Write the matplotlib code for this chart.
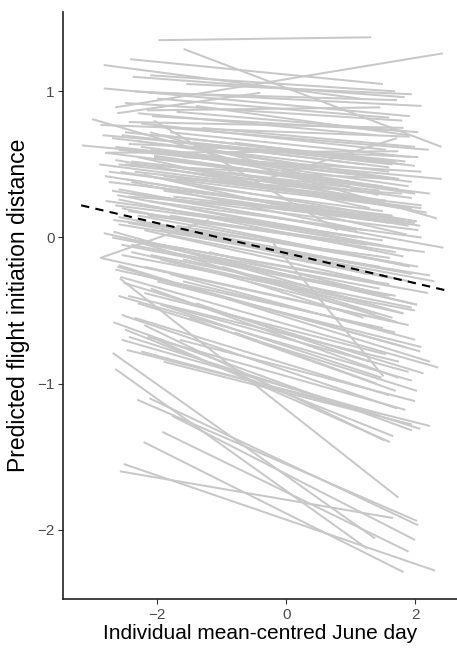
import matplotlib
matplotlib.use("Agg")
import matplotlib.pyplot as plt

plt.rcParams['font.family'] = ['Liberation Sans', 'DejaVu Sans']

# Individual random-slope lines: start/end of each individual's June-day range
x_start = [-1.98, -1.59, -2.65, -2.83, -2.42, -2.38, -2.11, -2.83, -2.13, -2.62,
           -2.16, -3.01, -2.44, -2.08, -2.88, -2.07, -3.17, -2.78, -2.44, -1.93,
           -2.11, -0.60, -2.55, -2.31, -2.05, -2.81, -2.65, -2.57, -2.81, -2.21,
           -2.60, -2.62, -2.60, -2.55, -2.68, -2.60, -2.83, -2.68, -2.52, -2.30,
           -2.00, -2.40, -1.90, -2.20, -1.80, -2.35, -1.70, -2.50, -2.10, -1.60,
           -2.45, -1.50, -2.20, -2.75, -1.95, -2.88, -2.88, -2.60, -2.62, -2.57,
           -2.58, -2.52, -1.95, -2.68, -2.55, -2.50, -2.44, -2.69, -2.47, -2.65,
           -2.20, -2.00, -2.30, -2.10, -1.80, -2.40, -2.20, -1.60, -2.00, -1.40,
           -0.60, -2.55, -1.20, -0.20, -2.31, -2.12, -1.77, -1.92, -2.21, -2.52,
           -2.58, -2.70, -2.25, -1.85, -2.60, -2.35, -2.15, -2.65, -2.45, -2.05,
           -2.70, -2.30, -1.75, -1.45, -1.30, -2.50, -2.00, -1.70, -2.25, -2.85,
           -1.65, -2.40, -1.85, -2.55, -1.95, -2.30, -1.50, -2.25, -1.90, -2.60,
           -1.35, -1.55, -2.35, -2.60, -1.40, -2.15, -1.00, -2.70, -1.80, -2.35,
           -2.05, -1.25, -2.45, -0.90, -2.20, -1.60,
           -2.50, -2.20, -1.80, -2.65, -2.05, -2.40, -1.60, -2.75, -2.15, -2.50,
           -1.90, -2.30, -2.60, -1.70, -2.40, -2.10, -2.65, -2.00, -2.45, -1.75,
           -2.35, -2.15, -2.55, -1.65, -1.20, -1.10, -0.80, -2.90, -2.30, -1.40,
           -1.00, -0.80, -2.80]
y_start = [1.35, 1.29, 0.89, 1.18, 1.22, 1.10, 1.11, 1.02, 0.99, 0.85,
           0.87, 0.81, 0.79, 0.83, 0.77, 0.76, 0.63, 0.58, 0.64, 0.70,
           0.72, 0.36, 0.70, 0.66, 0.80, 0.58, 0.53, 0.45, 0.42, 0.43,
           0.33, 0.29, 0.26, 0.20, 0.12, 0.09, 0.03, 0.04, 0.00, 0.55,
           0.50, 0.38, 0.32, 0.22, 0.15, 0.12, 0.40, 0.50, 0.60, 0.55,
           0.28, 0.20, 0.05, 0.45, 0.05, -0.14, -0.14, -0.19, -0.20, -0.27,
           -0.28, -0.31, -0.46, -0.58, -0.53, -0.63, -0.68, -0.79, -0.77, -0.90,
           -0.60, -0.70, -0.45, -0.35, -0.25, -0.10, -0.20, -0.30, -0.05, -0.45,
           -0.30, -0.05, -0.10, -0.04, -1.11, -1.10, -1.22, -1.33, -1.40, -1.55,
           -1.60, 0.68, 0.62, 0.58, 0.50, 0.45, 0.35, 0.22, 0.18, 0.10,
           0.00, -0.02, 0.28, 0.65, 0.75, 0.92, 0.95, 0.86, 0.78, 0.70,
           0.48, 0.30, 0.02, -0.12, -0.15, -0.25, -0.55, -0.78, -0.85, -0.40,
           0.00, 1.05, 1.00, 0.60, 0.35, 0.15, 0.25, 0.32, 0.42, -0.02,
           0.55, 0.60, 0.10, 0.45, -0.38, -0.15,
           0.72, 0.68, 0.72, 0.62, 0.56, 0.52, 0.45, 0.38, 0.25, 0.40,
           0.42, 0.15, 0.14, 0.08, -0.05, -0.12, -0.22, -0.30, -0.40, -0.48,
           -0.55, -0.68, -0.70, -0.70, 0.50, 0.30, 0.65, 0.50, 0.85, 0.90,
           -0.20, -0.65, 0.25]
x_end = [1.32, 2.41, 2.43, 1.15, 1.50, 1.84, 1.69, 1.92, 1.72, -0.40,
         1.46, 2.34, 1.82, 1.79, 1.92, 2.21, 2.41, 1.74, 2.05, 2.00,
         1.43, 1.72, 1.20, 1.00, 0.80, 2.23, 2.18, 2.03, 2.08, 1.87,
         2.44, 1.92, 1.82, 1.92, 1.61, 2.23, 2.03, 1.82, 1.72, 1.30,
         1.55, 1.20, 1.60, 1.40, 1.70, 1.25, 1.80, 1.65, 1.90, 2.10,
         1.50, 1.10, 1.35, 1.95, 1.45, -1.20, 1.90, 2.23, 2.08, 2.36,
         1.74, 2.13, 1.48, 1.95, 1.72, 1.66, 2.08, 1.38, 2.23, 1.26,
         1.53, 1.61, 2.03, 1.74, 2.00, 1.82, 1.72, 1.69, 2.03, 1.30,
         1.20, 1.55, 1.60, 1.51, 2.03, 2.05, 2.00, 1.90, 1.82, 2.31,
         1.66, 1.60, 1.95, 1.75, 1.40, 2.10, 1.85, 1.50, 2.15, 1.90,
         1.45, 2.20, 1.30, 1.65, 2.00, 1.80, 1.60, 2.05, 1.55, 1.70,
         1.95, 2.05, 1.65, 2.00, 1.40, 1.85, 1.70, 1.45, 1.95, 1.95,
         2.30, 1.95, 2.10, 1.35, 1.50, 1.25, 1.85, 1.10, 2.10, 1.60,
         1.00, 1.75, 1.95, 1.40, 1.55, 1.25,
         1.85, 1.60, 1.95, 1.75, 2.00, 1.45, 1.85, 1.65, 2.10, 1.90,
         1.35, 1.80, 1.60, 2.05, 1.70, 1.95, 1.50, 2.10, 1.75, 1.90,
         1.60, 1.85, 1.40, 2.00, 1.50, 2.00, 1.80, 1.55, 1.40, 1.90,
         1.65, 1.40, 1.20]
y_end = [1.37, 0.62, 1.26, 0.95, 1.05, 0.96, 1.00, 0.83, 0.94, 0.99,
         0.89, 0.13, 0.75, 0.73, 0.69, 0.60, 0.40, 0.59, 0.55, 0.49,
         0.29, 0.68, 0.50, 0.45, 0.05, 0.30, 0.17, 0.11, 0.08, 0.02,
         -0.07, -0.09, -0.13, -0.20, -0.14, -0.26, -0.46, -0.52, -0.58, 0.20,
         0.25, 0.05, 0.10, -0.05, -0.10, -0.25, 0.30, 0.40, 0.35, 0.45,
         0.15, 0.00, -0.30, 0.20, -0.20, 0.12, -0.60, -0.85, -0.78, -0.89,
         -1.78, -0.93, -0.96, -1.32, -1.17, -1.36, -1.31, -2.06, -1.29, -2.13,
         -1.39, -1.40, -1.05, -0.96, -0.70, -0.52, -0.58, -0.65, -0.46, -0.85,
         -0.55, -0.40, -0.40, -0.95, -1.94, -1.97, -2.07, -2.15, -2.29, -2.28,
         -1.92, 0.45, 0.38, 0.33, 0.30, 0.22, 0.12, -0.02, -0.10, -0.30,
         -0.35, -0.38, 0.12, 0.50, 0.62, 0.80, 0.82, 0.72, 0.60, 0.52,
         0.27, 0.05, -0.28, -0.50, -0.52, -0.75, -1.05, -1.22, -1.28, -0.98,
         -0.30, 0.98, 0.90, 0.42, 0.18, -0.05, 0.10, 0.05, 0.20, -0.32,
         0.35, 0.40, -0.25, 0.25, -0.80, -0.45,
         0.52, 0.48, 0.55, 0.40, 0.30, 0.32, 0.20, 0.15, 0.00, 0.08,
         0.25, -0.18, -0.22, -0.20, -0.40, -0.48, -0.62, -0.75, -0.85, -0.92,
         -1.08, -1.18, -1.20, -1.12, 0.35, 0.10, 0.50, 0.25, 0.70, 0.70,
         -0.55, -1.00, 0.00]

# Population-level (fixed effect) prediction
fixed_x = [-3.18, 2.46]
fixed_y = [0.22, -0.36]

x_ticks = [-2, 0, 2]
y_ticks = [-2, -1, 0, 1]

fig = plt.figure(figsize=(4.57, 6.5), dpi=100)
ax = fig.add_axes([0.138, 0.078, 0.862, 0.904])

for xs, ys, xe, ye in zip(x_start, y_start, x_end, y_end):
    ax.plot([xs, xe], [ys, ye], color='#c8c8c8', lw=1.45, solid_capstyle='butt', zorder=1)

ax.plot(fixed_x, fixed_y, color='black', lw=1.5, linestyle=(0, (4, 3)), zorder=3)

ax.set_xlim(-3.46, 2.65)
ax.set_ylim(-2.476, 1.545)
ax.set_xticks(x_ticks)
ax.set_yticks(y_ticks)

for s in ['top', 'right']:
    ax.spines[s].set_visible(False)
for s in ['left', 'bottom']:
    ax.spines[s].set_linewidth(1.2)
    ax.spines[s].set_color('#222222')

ax.tick_params(axis='both', colors='#333333', labelcolor='#4d4d4d',
               labelsize=11, length=3.5, width=0.8, pad=2.5)

ax.set_xlabel('Individual mean-centred June day', fontsize=15, color='black', labelpad=2)
ax.set_ylabel('Predicted flight initiation distance', fontsize=16.5, color='black', labelpad=5)

fig.savefig('out.png', dpi=100)
